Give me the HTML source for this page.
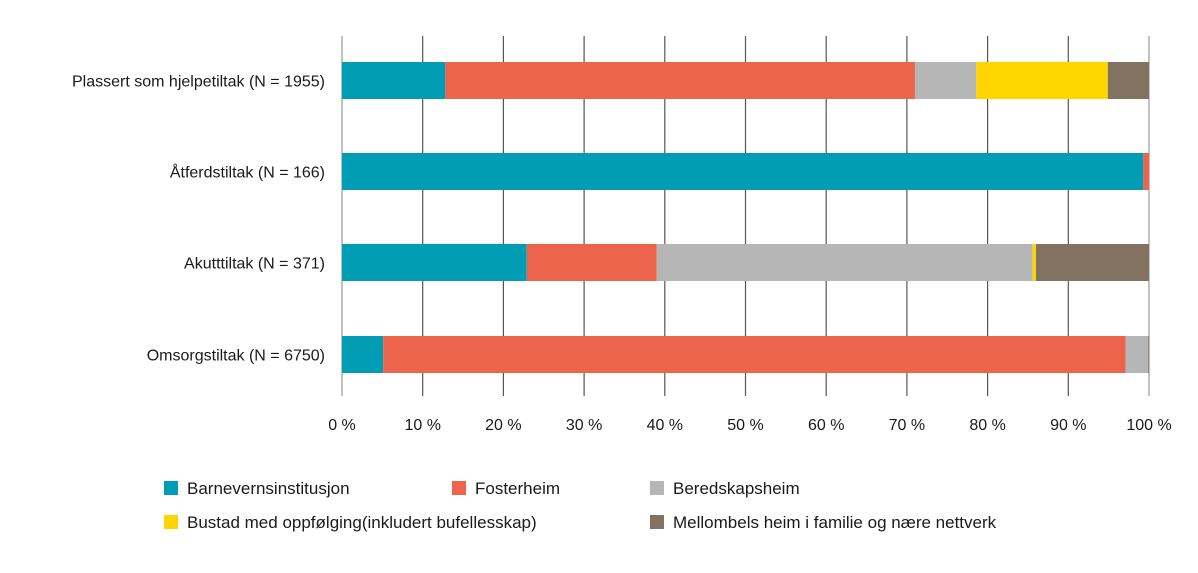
<!DOCTYPE html>
<html><head><meta charset="utf-8"><style>
body{margin:0;background:#fff;font-family:"Liberation Sans",sans-serif;}
svg text{font-family:"Liberation Sans",sans-serif;fill:#1a1a1a;}
</style></head><body>
<svg id="chart" width="1198" height="568" xmlns="http://www.w3.org/2000/svg"></svg>
<script>
const categories=["Plassert som hjelpetiltak (N = 1955)","Åtferdstiltak (N = 166)","Akutttiltak (N = 371)","Omsorgstiltak (N = 6750)"];
const seriesNames=["Barnevernsinstitusjon","Fosterheim","Beredskapsheim","Bustad med oppfølging(inkludert bufellesskap)","Mellombels heim i familie og nære nettverk"];
const sInst=[12.8,99.3,22.9,5.1];
const sFoster=[58.2,0.7,16.1,92.0];
const sBered=[7.6,0,46.6,2.8];
const sBustad=[16.3,0,0.4,0];
const sMellom=[5.1,0,14.0,0.1];
const ticks=[0,10,20,30,40,50,60,70,80,90,100];
const colors=["#009db4","#ec644b","#b5b6b5","#ffd500","#83725f"];
const svg=document.getElementById('chart');const NS="http://www.w3.org/2000/svg";
const x0=342,x1=1149;const xs=v=>x0+(x1-x0)*v/100;
const rowY=[62,153,244,336],barH=37;
function mk(t,a){const e=document.createElementNS(NS,t);for(const k in a)e.setAttribute(k,a[k]);svg.appendChild(e);return e;}
ticks.forEach(t=>{const l=mk('line',{x1:xs(t),x2:xs(t),y1:36,y2:396,stroke:t==0||t==100?'#999':'#555','stroke-width':1.2});


const tx=mk('text',{x:xs(t),y:430,'text-anchor':'middle','font-size':16});tx.textContent=t+' %';

});
const series=[sInst,sFoster,sBered,sBustad,sMellom];
categories.forEach((c,i)=>{const y=rowY[i];
const lb=mk('text',{x:325,y:y+barH/2+6,'text-anchor':'end','font-size':16});lb.textContent=c;


let acc=0;series.forEach((s,j)=>{const v=s[i];if(v<=0)return;
const r=mk('rect',{x:xs(acc),y:y,width:xs(acc+v)-xs(acc),height:barH,fill:colors[j]});


acc+=v;});});
const legPos=[[164,489],[452,489],[650,489],[164,523],[650,523]];
seriesNames.forEach((n,j)=>{const [lx,ly]=legPos[j];
const r=mk('rect',{x:lx,y:ly-8,width:14,height:14,fill:colors[j]});


const t=mk('text',{x:lx+23,y:ly+5,'font-size':17});t.textContent=n;

});
</script>
</body></html>
